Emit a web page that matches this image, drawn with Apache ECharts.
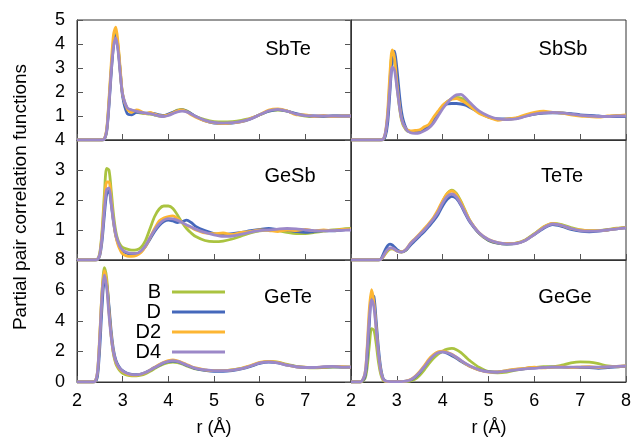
<!DOCTYPE html>
<html>
<head>
<meta charset="utf-8">
<script src="https://cdn.jsdelivr.net/npm/echarts@6/dist/echarts.min.js"></script>
<style>
  html, body { margin: 0; padding: 0; background: #fff; }
  #main { width: 635px; height: 440px; }
</style>
</head>
<body>
<div id="main"></div>
<script>
// r grid shared by all panels (Angstrom)
var r = [2.0, 2.2, 2.3, 2.35, 2.4, 2.45, 2.5, 2.55, 2.6, 2.65,
         2.7, 2.75, 2.8, 2.85, 2.9, 2.95, 3.0, 3.1, 3.2, 3.3,
         3.4, 3.5, 3.6, 3.7, 3.8, 3.9, 4.0, 4.1, 4.2, 4.3,
         4.4, 4.5, 4.6, 4.8, 5.0, 5.2, 5.4, 5.6, 5.8, 6.0,
         6.2, 6.4, 6.6, 6.8, 7.0, 7.2, 7.4, 7.6, 7.8, 8.0];

var models = ['B', 'D', 'D2', 'D4'];
var panels = ['SbTe', 'SbSb', 'GeSb', 'TeTe', 'GeTe', 'GeGe'];

// SbTe
var sbte_B  = [0,0,0,0,0,0,0,0,0.04,0.4, 1.6,3.0,4.1,4.5,3.9,2.8,1.9,1.3,1.2,1.15, 1.12,1.1,1.08,1.04,1.0,1.0,1.05,1.15,1.25,1.28, 1.22,1.1,0.98,0.85,0.77,0.75,0.77,0.82,0.9,1.05, 1.2,1.25,1.2,1.08,1.0,0.97,0.97,1.0,1.0,1.0];
var sbte_D  = [0,0,0,0,0,0,0,0,0.03,0.35, 1.4,2.8,3.9,4.35,3.8,2.8,1.8,1.1,1.05,1.15, 1.15,1.12,1.12,1.1,1.05,1.02,1.08,1.15,1.22,1.25, 1.2,1.1,0.98,0.8,0.7,0.68,0.7,0.76,0.88,1.05, 1.2,1.27,1.2,1.1,1.03,1.0,0.99,1.0,1.0,1.0];
var sbte_D2 = [0,0,0,0,0,0,0,0,0.05,0.45, 1.7,3.2,4.4,4.7,4.0,2.9,1.9,1.3,1.15,1.25, 1.2,1.1,1.15,1.08,1.02,1.0,1.05,1.12,1.22,1.25, 1.18,1.05,0.95,0.8,0.72,0.68,0.72,0.76,0.9,1.05, 1.25,1.3,1.22,1.05,1.05,0.98,1.02,0.97,1.0,1.0];
var sbte_D4 = [0,0,0,0,0,0,0,0,0.05,0.4, 1.5,2.9,3.9,4.25,3.7,2.7,1.9,1.35,1.25,1.2, 1.15,1.12,1.1,1.05,1.0,0.98,1.02,1.1,1.17,1.2, 1.17,1.08,0.98,0.82,0.73,0.7,0.72,0.78,0.88,1.05, 1.22,1.28,1.2,1.08,1.02,1.0,1.0,1.0,1.0,1.0];

// SbSb
var sbsb_B  = [0,0,0,0,0,0,0,0,0,0, 0.02,0.25,1.0,2.5,3.6,3.3,2.3,0.85,0.42,0.33, 0.32,0.35,0.42,0.55,0.8,1.1,1.4,1.6,1.72,1.78, 1.75,1.62,1.45,1.15,0.97,0.87,0.86,0.9,1.0,1.08, 1.13,1.15,1.13,1.08,1.03,1.0,0.98,0.98,1.0,1.0];
var sbsb_D  = [0,0,0,0,0,0,0,0,0,0, 0.01,0.15,0.7,2.0,3.3,3.7,3.0,1.2,0.5,0.35, 0.35,0.38,0.45,0.6,0.85,1.15,1.4,1.5,1.52,1.52, 1.5,1.45,1.35,1.15,0.95,0.88,0.88,0.9,1.0,1.08, 1.12,1.13,1.12,1.1,1.05,1.02,1.0,0.97,0.97,0.98];
var sbsb_D2 = [0,0,0,0,0,0,0,0,0,0, 0.02,0.3,1.2,2.8,3.75,3.4,2.4,0.9,0.45,0.38, 0.4,0.42,0.55,0.65,0.95,1.2,1.45,1.6,1.7,1.72, 1.65,1.55,1.4,1.1,0.95,0.82,0.88,0.92,1.05,1.15, 1.2,1.15,1.12,1.05,1.0,0.98,0.95,1.0,1.02,1.05];
var sbsb_D4 = [0,0,0,0,0,0,0,0,0,0, 0.02,0.3,1.0,2.2,3.05,2.9,2.2,0.9,0.45,0.3, 0.28,0.3,0.38,0.5,0.7,1.0,1.3,1.55,1.75,1.88, 1.9,1.75,1.55,1.2,1.0,0.88,0.85,0.88,0.98,1.08, 1.13,1.15,1.13,1.08,1.03,1.0,0.98,0.98,1.0,1.0];

// GeSb
var gesb_B  = [0,0,0,0,0,0.02,0.25,1.0,2.2,3.05, 3.0,2.3,1.5,0.95,0.65,0.5,0.42,0.36,0.33,0.34, 0.42,0.65,1.05,1.45,1.7,1.8,1.8,1.72,1.5,1.25, 1.05,0.9,0.78,0.65,0.61,0.63,0.7,0.8,0.9,0.97, 1.0,0.98,0.92,0.88,0.88,0.92,0.96,1.0,1.03,1.05];
var gesb_D  = [0,0,0,0,0,0.01,0.15,0.65,1.5,2.2, 2.3,1.85,1.25,0.8,0.55,0.4,0.3,0.22,0.2,0.2, 0.28,0.45,0.7,0.95,1.15,1.28,1.33,1.3,1.25,1.28, 1.33,1.25,1.12,0.98,0.88,0.85,0.88,0.92,0.98,1.02, 1.05,1.02,1.0,0.95,0.92,0.95,0.98,0.97,1.0,1.02];
var gesb_D2 = [0,0,0,0,0,0.02,0.2,0.9,1.9,2.6, 2.6,2.0,1.3,0.8,0.5,0.32,0.2,0.13,0.12,0.15, 0.25,0.45,0.75,1.05,1.3,1.4,1.45,1.47,1.38,1.25, 1.15,1.08,1.0,0.9,0.88,0.9,0.85,0.92,0.95,1.0, 0.98,0.95,1.0,0.98,1.02,0.97,1.0,0.98,1.02,1.03];
var gesb_D4 = [0,0,0,0,0,0.02,0.2,0.8,1.7,2.35, 2.4,1.9,1.3,0.85,0.6,0.42,0.33,0.25,0.22,0.22, 0.3,0.48,0.75,1.0,1.2,1.33,1.38,1.37,1.32,1.25, 1.17,1.1,1.03,0.92,0.84,0.79,0.8,0.86,0.93,0.98, 1.0,1.03,1.05,1.04,1.0,0.98,0.97,0.98,0.99,1.0];

// TeTe
var tete_B  = [0,0,0,0,0,0,0,0,0,0.02, 0.1,0.2,0.3,0.36,0.37,0.35,0.3,0.26,0.33,0.52, 0.68,0.84,1.0,1.18,1.38,1.62,1.95,2.22,2.33,2.22, 1.95,1.62,1.3,0.88,0.65,0.56,0.53,0.56,0.67,0.88, 1.1,1.22,1.18,1.08,1.0,0.98,0.98,1.02,1.06,1.09];
var tete_D  = [0,0,0,0,0,0,0,0,0,0.03, 0.18,0.35,0.48,0.53,0.5,0.43,0.35,0.27,0.33,0.5, 0.65,0.8,0.95,1.12,1.3,1.52,1.8,2.02,2.12,2.05, 1.82,1.52,1.25,0.88,0.66,0.56,0.53,0.55,0.65,0.85, 1.05,1.18,1.12,1.02,0.96,0.94,0.96,1.0,1.04,1.07];
var tete_D2 = [0,0,0,0,0,0,0,0,0,0.02, 0.1,0.22,0.33,0.38,0.38,0.35,0.3,0.27,0.36,0.57, 0.72,0.88,1.05,1.22,1.42,1.68,1.98,2.22,2.3,2.18, 1.92,1.6,1.3,0.9,0.68,0.58,0.55,0.56,0.66,0.86, 1.1,1.22,1.15,1.05,1.0,0.98,0.98,1.0,1.05,1.08];
var tete_D4 = [0,0,0,0,0,0,0,0,0,0.02, 0.12,0.25,0.35,0.4,0.4,0.36,0.3,0.26,0.35,0.55, 0.7,0.85,1.0,1.18,1.37,1.6,1.9,2.12,2.2,2.1, 1.85,1.55,1.28,0.9,0.68,0.58,0.54,0.55,0.65,0.85, 1.07,1.2,1.15,1.05,0.98,0.96,0.97,1.0,1.04,1.07];

// GeTe
var gete_B  = [0,0,0,0,0.04,0.6,3.0,6.0,7.5,6.8, 4.8,3.0,1.8,1.2,0.9,0.7,0.58,0.45,0.4,0.4, 0.45,0.55,0.7,0.88,1.05,1.18,1.27,1.3,1.27,1.18, 1.05,0.95,0.86,0.78,0.74,0.75,0.8,0.9,1.05,1.25, 1.35,1.3,1.15,1.02,0.95,0.93,0.95,0.98,0.98,0.97];
var gete_D  = [0,0,0,0,0.02,0.4,2.3,5.0,6.5,6.4, 5.0,3.3,2.1,1.45,1.1,0.88,0.74,0.57,0.5,0.48, 0.52,0.62,0.78,0.95,1.1,1.25,1.33,1.37,1.33,1.23, 1.1,0.98,0.88,0.76,0.7,0.7,0.75,0.86,1.02,1.22, 1.3,1.25,1.1,1.0,0.95,0.94,0.98,1.0,0.98,0.97];
var gete_D2 = [0,0,0,0,0.04,0.7,3.2,6.0,7.3,6.5, 4.6,3.0,1.9,1.3,1.0,0.8,0.68,0.52,0.45,0.44, 0.5,0.6,0.78,0.97,1.15,1.3,1.4,1.45,1.38,1.28, 1.15,1.02,0.92,0.8,0.74,0.75,0.8,0.9,1.08,1.28, 1.35,1.28,1.12,1.0,0.97,0.95,0.98,1.02,1.0,0.98];
var gete_D4 = [0,0,0,0,0.05,0.7,3.0,5.8,7.0,6.2, 4.4,2.9,1.9,1.35,1.05,0.85,0.72,0.56,0.49,0.47, 0.52,0.62,0.78,0.95,1.12,1.27,1.36,1.4,1.35,1.25, 1.12,1.0,0.9,0.8,0.74,0.74,0.78,0.88,1.05,1.25, 1.32,1.25,1.1,1.0,0.95,0.95,1.0,1.02,0.98,0.98];

// GeGe
var gege_B  = [0,0,0.2,0.9,2.4,3.5,3.4,2.5,1.3,0.5, 0.12,0.04,0.02,0.02,0.02,0.02,0.02,0.02,0.03,0.08, 0.2,0.45,0.8,1.2,1.55,1.82,2.02,2.15,2.2,2.12, 1.92,1.65,1.38,0.95,0.68,0.6,0.65,0.78,0.88,0.95, 1.0,1.0,1.1,1.25,1.32,1.3,1.2,1.05,1.0,1.05];
var gege_D  = [0,0,0.3,1.5,3.8,5.7,5.6,4.0,2.2,0.9, 0.25,0.07,0.04,0.03,0.03,0.03,0.03,0.03,0.05,0.13, 0.32,0.62,1.0,1.42,1.75,1.95,1.97,1.88,1.72,1.55, 1.35,1.18,1.02,0.8,0.68,0.67,0.74,0.82,0.88,0.92, 0.95,0.97,0.97,0.96,0.95,0.94,0.9,0.95,1.0,1.03];
var gege_D2 = [0,0,0.5,2.2,4.8,6.05,5.2,3.5,1.8,0.7, 0.18,0.05,0.03,0.02,0.02,0.02,0.02,0.03,0.06,0.16, 0.38,0.7,1.08,1.5,1.8,1.98,2.02,1.95,1.82,1.62, 1.4,1.2,1.02,0.78,0.65,0.66,0.75,0.85,0.9,0.98, 0.92,0.98,1.0,0.95,0.98,1.0,0.95,1.0,1.02,1.05];
var gege_D4 = [0,0,0.5,2.0,4.2,5.4,4.9,3.4,1.8,0.7, 0.2,0.06,0.04,0.03,0.03,0.03,0.03,0.03,0.06,0.15, 0.35,0.65,1.0,1.4,1.72,1.92,1.98,1.92,1.8,1.62, 1.42,1.22,1.05,0.8,0.66,0.64,0.72,0.8,0.86,0.9, 0.94,0.97,0.98,0.98,0.98,0.97,0.98,1.0,1.02,1.05];

var yMax = [5, 5, 4, 4, 8, 8];
var yStep = [1, 1, 1, 1, 2, 2];

var panelData = [
    [sbte_B, sbte_D, sbte_D2, sbte_D4],
    [sbsb_B, sbsb_D, sbsb_D2, sbsb_D4],
    [gesb_B, gesb_D, gesb_D2, gesb_D4],
    [tete_B, tete_D, tete_D2, tete_D4],
    [gete_B, gete_D, gete_D2, gete_D4],
    [gege_B, gege_D, gege_D2, gege_D4]
];

var colors = ['#aac340', '#4568bb', '#fdb633', '#9c88c8'];
var font = 'Liberation Sans, Arial, sans-serif';

var myChart = echarts.init(document.getElementById('main'));

var grids = [], xAxes = [], yAxes = [], series = [], titles = [];
var tops = [20, 140, 260];
var heights = [120, 120, 122];
var labelPos = [[283, 44], [558, 44], [285, 171], [557, 171], [283, 292], [560, 292]];

for (var i = 0; i < 6; i++) {
    var row = Math.floor(i / 2), col = i % 2;
    grids.push({
        left: col === 0 ? 77 : 351,
        top: tops[row],
        width: col === 0 ? 274 : 275,
        height: heights[row],
        show: true,
        borderColor: '#333',
        borderWidth: 1
    });
    xAxes.push({
        type: 'value', gridIndex: i, min: 2, max: 8, interval: 1,
        axisLine: { lineStyle: { color: '#333', width: 1 } },
        axisTick: { show: true, inside: true, length: 6, lineStyle: { color: '#555' } },
        axisLabel: {
            show: row === 2, fontSize: 18, color: '#000', fontFamily: font, margin: 10,
            // left column: the 8 would sit on top of the right column's 2
            formatter: (function (c) {
                return function (v) { return (c === 0 && v === 8) ? '' : v; };
            })(col)
        },
        splitLine: { show: false }
    });
    yAxes.push({
        type: 'value', gridIndex: i, min: 0, max: yMax[i], interval: yStep[i],
        position: 'left',
        axisLine: { show: true, lineStyle: { color: '#333', width: 1 } },
        axisTick: { show: col === 0, inside: true, length: 6, lineStyle: { color: '#555' } },
        axisLabel: {
            show: col === 0, fontSize: 18, color: '#000', fontFamily: font, margin: 12,
            formatter: (function (rw) {
                return function (v) { return (v === 0 && rw < 2) ? '' : v; };
            })(row)
        },
        splitLine: { show: false }
    });
    titles.push({
        text: panels[i], left: labelPos[i][0], top: labelPos[i][1],
        textAlign: 'center', textVerticalAlign: 'middle',
        textStyle: { fontSize: 20, fontWeight: 'normal', color: '#000', fontFamily: font }
    });
}
// mirror ticks on the right side of left-column panels
for (var k = 0; k < 3; k++) {
    var gi = k * 2;
    yAxes.push({
        type: 'value', gridIndex: gi, min: 0, max: yMax[gi], interval: yStep[gi],
        position: 'right',
        axisLine: { show: false },
        axisTick: { show: true, inside: true, length: 6, lineStyle: { color: '#555' } },
        axisLabel: { show: false },
        splitLine: { show: false }
    });
}

for (var p = 0; p < 6; p++) {
    for (var m = 0; m < 4; m++) {
        var vals = panelData[p][m];
        series.push({
            name: models[m],
            type: 'line',
            xAxisIndex: p,
            yAxisIndex: p,
            showSymbol: false,
            symbol: 'none',
            smooth: 0.3,
            data: r.map(function (x, j) { return [x, vals[j]]; }),
            lineStyle: { color: colors[m], width: 2.8 },
            itemStyle: { color: colors[m] },
            z: 2 + m
        });
    }
}

var option = {
    animation: false,
    backgroundColor: '#fff',
    title: titles,
    grid: grids,
    xAxis: xAxes,
    yAxis: yAxes,
    legend: {
        data: models,
        orient: 'vertical',
        left: 126,
        top: 277,
        align: 'right',
        icon: 'rect',
        itemWidth: 53,
        itemHeight: 3,
        itemGap: 0,
        textStyle: {
            fontSize: 20, color: '#000', fontFamily: font,
            width: 30, align: 'right', lineHeight: 19, padding: [0, 6, 0, 0]
        }
    },
    graphic: [
        {
            type: 'text', x: 21, y: 197, rotation: Math.PI / 2,
            style: {
                text: 'Partial pair correlation functions',
                font: '19px ' + font, fill: '#000',
                textAlign: 'center', textVerticalAlign: 'middle'
            }
        },
        {
            type: 'text', x: 214, y: 428,
            style: { text: 'r (Å)', font: '18px ' + font, fill: '#000', textAlign: 'center', textVerticalAlign: 'middle' }
        },
        {
            type: 'text', x: 489, y: 428,
            style: { text: 'r (Å)', font: '18px ' + font, fill: '#000', textAlign: 'center', textVerticalAlign: 'middle' }
        }
    ],
    series: series
};

myChart.setOption(option);
</script>
</body>
</html>
